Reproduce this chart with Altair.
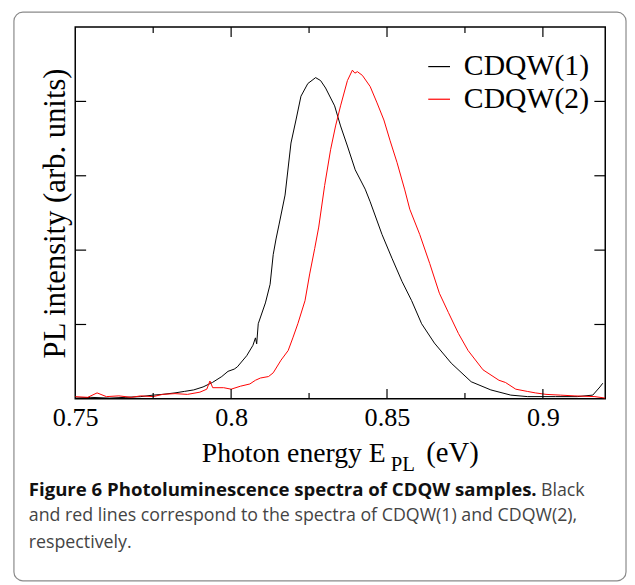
import altair as alt
import pandas as pd

# ---- data ----
black_energy = [0.750, 0.755, 0.761, 0.766, 0.771, 0.775, 0.778, 0.782, 0.785, 0.788,
                0.791, 0.794, 0.797, 0.799, 0.801, 0.802, 0.805, 0.807, 0.8078, 0.8082,
                0.8087, 0.811, 0.8125, 0.8135, 0.8144, 0.8154, 0.8173, 0.8192, 0.8208, 0.8224,
                0.8246, 0.8271, 0.8287, 0.8303, 0.8332, 0.8351, 0.8373, 0.8398, 0.8430, 0.8446,
                0.8484, 0.8516, 0.8548, 0.8579, 0.8611, 0.8652, 0.8706, 0.8770, 0.8833, 0.8897,
                0.8951, 0.9040, 0.9110, 0.9160, 0.9183, 0.9192]
black_intensity = [0.01, 0.02, 0.01, 0.02, 0.03, 0.05, 0.06, 0.08, 0.10, 0.12,
                   0.16, 0.22, 0.30, 0.37, 0.40, 0.43, 0.58, 0.72, 0.82, 0.74,
                   1.01, 1.29, 1.54, 1.94, 2.15, 2.35, 2.74, 3.44, 3.75, 4.07,
                   4.24, 4.32, 4.28, 4.18, 3.94, 3.67, 3.40, 3.08, 2.82, 2.65,
                   2.21, 1.89, 1.58, 1.32, 1.01, 0.75, 0.48, 0.23, 0.12, 0.05,
                   0.03, 0.03, 0.03, 0.05, 0.16, 0.21]

red_energy = [0.750, 0.754, 0.757, 0.760, 0.764, 0.768, 0.771, 0.775, 0.778, 0.782,
              0.786, 0.790, 0.7922, 0.7932, 0.7941, 0.7976, 0.800, 0.803, 0.806, 0.8078,
              0.8094, 0.8120, 0.8135, 0.8160, 0.8183, 0.8198, 0.8214, 0.8237, 0.8252, 0.8268,
              0.8281, 0.8300, 0.8319, 0.8335, 0.8351, 0.8373, 0.8389, 0.8397, 0.8405, 0.8421,
              0.8446, 0.8468, 0.8490, 0.8510, 0.8532, 0.8557, 0.8573, 0.8605, 0.8637, 0.8668,
              0.8697, 0.8729, 0.8760, 0.8808, 0.8859, 0.8880, 0.8913, 0.8950, 0.8976, 0.9010,
              0.9056, 0.9100, 0.9167, 0.9200]
red_intensity = [0.03, 0.02, 0.08, 0.03, 0.04, 0.02, 0.04, 0.03, 0.06, 0.07,
                 0.06, 0.09, 0.13, 0.24, 0.15, 0.15, 0.13, 0.17, 0.20, 0.25,
                 0.28, 0.30, 0.35, 0.52, 0.65, 0.82, 1.01, 1.32, 1.68, 2.02,
                 2.31, 2.87, 3.35, 3.67, 3.94, 4.28, 4.42, 4.38, 4.40, 4.35,
                 4.20, 3.98, 3.75, 3.47, 3.18, 2.81, 2.55, 2.21, 1.82, 1.42,
                 1.16, 0.88, 0.65, 0.39, 0.25, 0.22, 0.13, 0.10, 0.08, 0.06,
                 0.05, 0.04, 0.03, 0.01]

series_names = ["CDQW(1)", "CDQW(2)"]
series_colors = ["#000000", "#ff0000"]

x_label_values = [0.75, 0.8, 0.85, 0.9]
x_major_ticks = [0.8, 0.85, 0.9]
x_minor_ticks = [0.775, 0.825, 0.875]
y_ticks = [1, 2, 3, 4]

caption_bold = "Figure 6 Photoluminescence spectra of CDQW samples."
caption_rest = ["Black",
                "and red lines correspond to the spectra of CDQW(1) and CDQW(2),",
                "respectively."]

W, H = 536, 376
SERIF = "Liberation Serif"
SANS = "Open Sans"

df = pd.concat([
    pd.DataFrame({"energy": black_energy, "intensity": black_intensity, "sample": series_names[0]}),
    pd.DataFrame({"energy": red_energy, "intensity": red_intensity, "sample": series_names[1]}),
])

xs = alt.Scale(domain=[0.75, 0.92], nice=False, zero=False)
ys = alt.Scale(domain=[0, 5], nice=False, zero=False)

x_axis = alt.Axis(values=x_label_values, format="~g", ticks=False, domain=False, grid=False,
                  labelFont=SERIF, labelFontSize=26.5, labelColor="black", labelPadding=6,
                  labelFlush=False, title=None)
y_axis = alt.Axis(labels=False, ticks=False, domain=False, grid=False,
                  title="PL intensity (arb. units)", titleFont=SERIF, titleFontSize=31,
                  titleFontWeight="normal", titleColor="black", titlePadding=4)

lines = alt.Chart(df).mark_line(strokeWidth=1, clip=True).encode(
    x=alt.X("energy:Q", scale=xs, axis=x_axis),
    y=alt.Y("intensity:Q", scale=ys, axis=y_axis),
    color=alt.Color("sample:N",
                    scale=alt.Scale(domain=series_names, range=series_colors),
                    legend=alt.Legend(orient="none", legendX=353, legendY=25, title=None,
                                      symbolType="stroke", symbolSize=484, symbolStrokeWidth=1.2,
                                      labelFont=SERIF, labelFontSize=30, labelColor="black",
                                      labelLimit=400, rowPadding=3, labelOffset=10, padding=0)),
    detail="sample:N",
)

def xtick_layer(vals, length, top):
    d = pd.DataFrame({"energy": vals})
    y0 = 0 if top else H
    y1 = length if top else H - length
    return alt.Chart(d).mark_rule(color="black", strokeWidth=1.2).encode(
        x=alt.X("energy:Q", scale=xs, axis=x_axis),
        y=alt.value(y0), y2=alt.value(y1))

def ytick_layer(vals, length, right):
    d = pd.DataFrame({"intensity": vals})
    x0 = W if right else 0
    x1 = W - length if right else length
    return alt.Chart(d).mark_rule(color="black", strokeWidth=1.2).encode(
        y=alt.Y("intensity:Q", scale=ys, axis=y_axis),
        x=alt.value(x0), x2=alt.value(x1))

ticks = [
    xtick_layer(x_major_ticks, 10, False), xtick_layer(x_minor_ticks, 6, False),
    xtick_layer(x_major_ticks, 10, True), xtick_layer(x_minor_ticks, 6, True),
    ytick_layer(y_ticks, 11, False), ytick_layer(y_ticks, 11, True),
]

one = pd.DataFrame({"k": [0]})

border = alt.Chart(one).mark_rect(fill=None, stroke="#8a8a8a", strokeWidth=1.2,
                                  cornerRadius=9).encode(
    x=alt.value(-62), x2=alt.value(557), y=alt.value(-15), y2=alt.value(560))

def txt(s, x, y, font, size, weight="normal", color="black", align="left", baseline="alphabetic"):
    return alt.Chart(one).mark_text(text=s, font=font, fontSize=size, fontWeight=weight,
                                    color=color, align=align, baseline=baseline).encode(
        x=alt.value(x), y=alt.value(y))

xtitle = [
    txt("Photon energy E", 314, 440, SERIF, 28, align="right"),
    txt("PL", 319, 449, SERIF, 21),
    txt("(eV)", 355, 440, SERIF, 29),
]

cap = [
    txt(caption_bold, -47, 474, SANS, 18.8, weight="bold", color="#111111"),
    txt(caption_rest[0], 471, 474, SANS, 18, color="#444444"),
    txt(caption_rest[1], -47, 500, SANS, 18, color="#444444"),
    txt(caption_rest[2], -47, 527, SANS, 18, color="#444444"),
]

chart = alt.layer(border, lines, *ticks, *xtitle, *cap).properties(
    width=W, height=H, background="white",
    padding={"left": 5, "top": 0, "right": 0, "bottom": 0},
).configure_view(stroke="black", strokeWidth=1.5)

chart.save("out.html", embed_options={"renderer": "svg", "actions": False})
